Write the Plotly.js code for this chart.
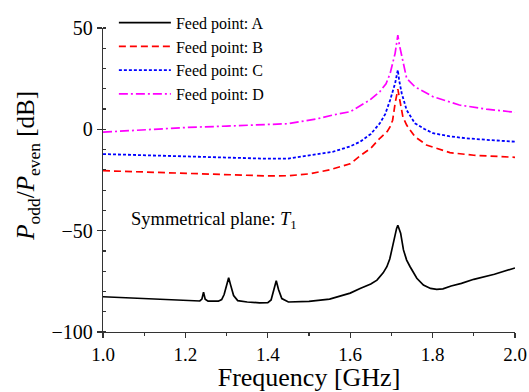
<!DOCTYPE html>
<html>
<head>
<meta charset="utf-8">
<script src="https://cdn.plot.ly/plotly-3.0.1.min.js"></script>
<style>html,body{margin:0;padding:0;background:#fff;}#chart{width:529px;height:392px;}</style>
</head>
<body>
<div id="chart"></div>
<script>
// Feed point A
var freqA = [1.00,1.05,1.10,1.15,1.20,1.235,1.240,1.244,1.248,1.255,1.28,1.288,1.294,1.300,1.305,1.310,1.317,1.327,1.35,1.38,1.40,1.408,1.414,1.4205,1.426,1.434,1.45,1.50,1.55,1.60,1.624,1.65,1.665,1.68,1.689,1.696,1.701,1.706,1.709,1.7125,1.7156,1.719,1.7224,1.7293,1.737,1.7454,1.7617,1.7777,1.795,1.81,1.825,1.845,1.87,1.90,1.95,2.00];
var valA  = [-82.6,-83.0,-83.5,-84.0,-84.3,-84.7,-83.8,-80.4,-83.8,-84.8,-84.8,-84.0,-81.5,-77.0,-73.2,-77.0,-82.0,-84.5,-85.2,-85.6,-85.5,-84.2,-80.0,-74.7,-79.0,-83.5,-85.2,-84.9,-83.8,-80.8,-78.5,-76.3,-74.4,-70.8,-67.8,-64.0,-59.5,-55.0,-51.2,-49.0,-47.3,-49.5,-51.2,-59.5,-64.5,-67.8,-73.5,-76.8,-78.5,-79.0,-78.7,-77.3,-76.0,-74.0,-71.5,-68.4];
// Feed point B
var freqB = [1.00,1.10,1.20,1.30,1.40,1.45,1.50,1.55,1.60,1.624,1.65,1.672,1.69,1.697,1.703,1.709,1.712,1.7156,1.719,1.7224,1.728,1.737,1.757,1.785,1.842,1.90,2.00];
var valB  = [-20.4,-21.0,-21.7,-22.5,-23.0,-22.9,-22.0,-20.0,-17.0,-13.1,-9.3,-4.4,-1.0,1.3,4.5,12.8,16.5,19.8,16.0,11.5,6.0,2.1,-3.6,-7.7,-11.5,-12.8,-13.8];
// Feed point C
var freqC = [1.00,1.10,1.20,1.30,1.40,1.45,1.479,1.50,1.559,1.60,1.624,1.65,1.672,1.685,1.697,1.709,1.7156,1.719,1.725,1.737,1.757,1.78,1.801,1.84,1.881,1.94,2.00];
var valC  = [-12.2,-12.8,-13.4,-14.0,-14.5,-14.4,-13.5,-12.8,-11.0,-8.4,-6.1,-2.3,3.0,7.5,14.5,22.7,29.3,24.0,17.8,9.5,3.0,0.2,-1.9,-3.4,-4.4,-5.3,-6.1];
// Feed point D
var freqD = [1.00,1.10,1.20,1.30,1.40,1.45,1.479,1.52,1.559,1.60,1.648,1.672,1.687,1.697,1.709,1.7156,1.719,1.725,1.737,1.757,1.78,1.801,1.865,1.93,2.00];
var valD  = [-1.4,-0.2,0.9,1.6,2.2,2.8,3.8,5.2,7.1,8.7,14.5,18.6,22.5,27.6,37.5,46.5,42.0,35.9,25.2,21.0,18.3,16.1,12.0,10.0,8.4];

var names = ['Feed point: A','Feed point: B','Feed point: C','Feed point: D'];
var xTickVals = [1.0,1.2,1.4,1.6,1.8,2.0];
var yTickVals = [-100,-50,0,50];

var FONT = 'Liberation Serif, Times New Roman, serif';
var traces = [
  {x: freqA, y: valA, name: names[0], line:{color:'#000000', width:1.7}},
  {x: freqB, y: valB, name: names[1], line:{color:'#FF0000', width:1.7, dash:'7px,4px'}},
  {x: freqC, y: valC, name: names[2], line:{color:'#0000FF', width:1.8, dash:'3px,2px'}},
  {x: freqD, y: valD, name: names[3], line:{color:'#FF00FF', width:1.7, dash:'9px,3px,2px,3px'}}
].map(function(t){ t.type='scatter'; t.mode='lines'; return t; });

var layout = {
  width: 529, height: 392,
  margin: {l: 102.5, r: 14, t: 2, b: 60, pad: 0},
  paper_bgcolor: '#fff', plot_bgcolor: '#fff',
  font: {family: FONT, color: '#000', size: 20},
  showlegend: true,
  legend: {x: 0.0264, y: 0.989, xanchor: 'left', yanchor: 'top', bgcolor: 'rgba(0,0,0,0)',
           font: {family: FONT, size: 16, color: '#000'}, itemwidth: 52},
  xaxis: {range: [1.0, 2.0], tickvals: xTickVals, ticktext: xTickVals.map(function(v){return v.toFixed(1);}),
          showline: true, linecolor: '#333', linewidth: 1.3, ticks: 'outside', ticklen: 5, tickcolor: '#333', tickwidth: 1.2,
          minor: {dtick: 0.1, ticks: 'outside', ticklen: 3, tickcolor: '#333', tickwidth: 1.2, showgrid: false},
          showgrid: false, zeroline: false, tickfont: {family: FONT, size: 19, color: '#000'},
          title: {text: 'Frequency [GHz]', font: {family: FONT, size: 26, color: '#000'}, standoff: 4}},
  yaxis: {range: [-100, 50], tickvals: yTickVals, domain: [0, 0.9212],
          showline: true, linecolor: '#333', linewidth: 1.3, ticks: 'outside', ticklen: 5, tickcolor: '#333', tickwidth: 1.2,
          minor: {dtick: 10, ticks: 'inside', ticklen: 3, tickcolor: '#333', tickwidth: 1.2, showgrid: false},
          showgrid: false, zeroline: false, tickfont: {family: FONT, size: 20, color: '#000'}},
  annotations: [
    {xref: 'paper', yref: 'paper', x: -0.183, y: 0.5024, xanchor: 'center', yanchor: 'middle', textangle: -90, showarrow: false,
     text: '<i>P</i><sub>odd</sub>/<i>P</i><sub>even</sub> [dB]', font: {family: FONT, size: 25, color: '#000'}},
    {xref: 'x', yref: 'y', x: 1.062, y: -45, xanchor: 'left', yanchor: 'middle', showarrow: false,
     text: 'Symmetrical plane: <i>T</i><sub>1</sub>', font: {family: FONT, size: 18.5, color: '#000'}}
  ]
};

Plotly.newPlot('chart', traces, layout, {staticPlot: true, displayModeBar: false});
</script>
</body>
</html>
